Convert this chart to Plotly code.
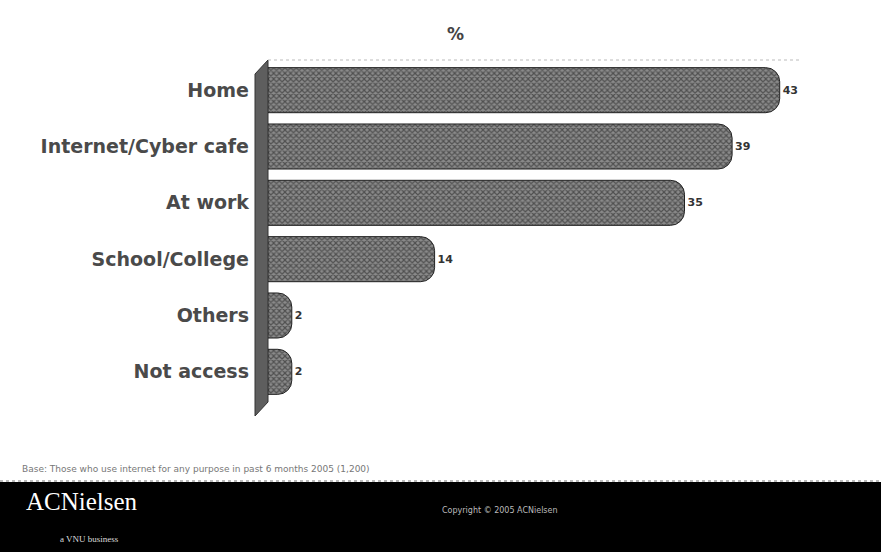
import plotly.graph_objects as go

categories = ["Home", "Internet/Cyber cafe", "At work", "School/College", "Others", "Not access"]
values = [43, 39, 35, 14, 2, 2]
value_labels = ["43", "39", "35", "14", "2", "2"]

W, H = 881, 552
ML, MR, MT, MB = 268, 18, 62, 152
PW, PH = W - ML - MR, H - MT - MB


def px(x):
    return (x - ML) / PW


def py(y):
    return (H - MB - y) / PH


fig = go.Figure()
fig.add_trace(go.Bar(
    y=categories,
    x=values,
    orientation="h",
    width=0.8,
    marker=dict(
        color="#6f6f6f",
        line=dict(color="#222222", width=1),
        pattern=dict(shape="x", fgcolor="#151515", bgcolor="#8a8a8a", size=4, solidity=0.5),
        cornerradius=14,
    ),
    text=value_labels,
    textposition="outside",
    textfont=dict(family="DejaVu Sans", size=11, color="#333333", weight="bold"),
    cliponaxis=False,
))

shapes = [
    # black footer band
    dict(type="rect", xref="paper", yref="paper", x0=px(0), x1=px(W), y0=py(482), y1=py(H),
         fillcolor="black", line=dict(width=0), layer="below"),
    # dotted separator
    dict(type="line", xref="paper", yref="paper", x0=px(0), x1=px(W), y0=py(481), y1=py(481),
         line=dict(color="#777777", width=1, dash="dot")),
    # 3D wall
    dict(type="path", xref="paper", yref="paper",
         path=f"M {px(255)},{py(416)} L {px(255)},{py(74)} L {px(268)},{py(60)} L {px(268)},{py(402)} Z",
         fillcolor="#5e5e5e", line=dict(color="#333333", width=1), layer="below"),
    # top dotted guide
    dict(type="line", xref="paper", yref="paper", x0=px(268), x1=px(800), y0=py(60), y1=py(60),
         line=dict(color="#bbbbbb", width=1, dash="dot")),
]

annotations = [
    dict(text="%", xref="paper", yref="paper", x=px(445), y=py(22), showarrow=False,
         font=dict(family="DejaVu Sans", size=17, color="#444444", weight="bold")),
    dict(text="Base: Those who use internet for any purpose in past 6 months 2005 (1,200)",
         xref="paper", yref="paper", x=px(20), y=py(469), xanchor="left", yanchor="middle",
         showarrow=False, font=dict(family="DejaVu Sans", size=9, color="#777777")),
    dict(text="ACNielsen", xref="paper", yref="paper", x=px(24), y=py(517), xanchor="left",
         showarrow=False, font=dict(family="Liberation Serif", size=25, color="white")),
    dict(text="a VNU business", xref="paper", yref="paper", x=px(58), y=py(546), xanchor="left",
         showarrow=False, font=dict(family="Liberation Serif", size=9, color="#dddddd")),
    dict(text="Copyright © 2005 ACNielsen", xref="paper", yref="paper", x=px(440), y=py(517),
         xanchor="left", showarrow=False, font=dict(family="DejaVu Sans", size=8, color="#bbbbbb")),
]

fig.update_layout(
    width=W, height=H,
    margin=dict(l=ML, r=MR, t=MT, b=MB),
    paper_bgcolor="white", plot_bgcolor="white",
    showlegend=False,
    shapes=shapes,
    annotations=annotations,
    xaxis=dict(range=[0, 50], visible=False, showgrid=False, zeroline=False),
    yaxis=dict(autorange="reversed", showgrid=False, zeroline=False, showline=False,
               ticks="", ticklabelstandoff=18,
               tickfont=dict(family="DejaVu Sans", size=19, color="#4a4a4a", weight="bold")),
    bargap=0.2,
)

fig.write_html("out.html")
